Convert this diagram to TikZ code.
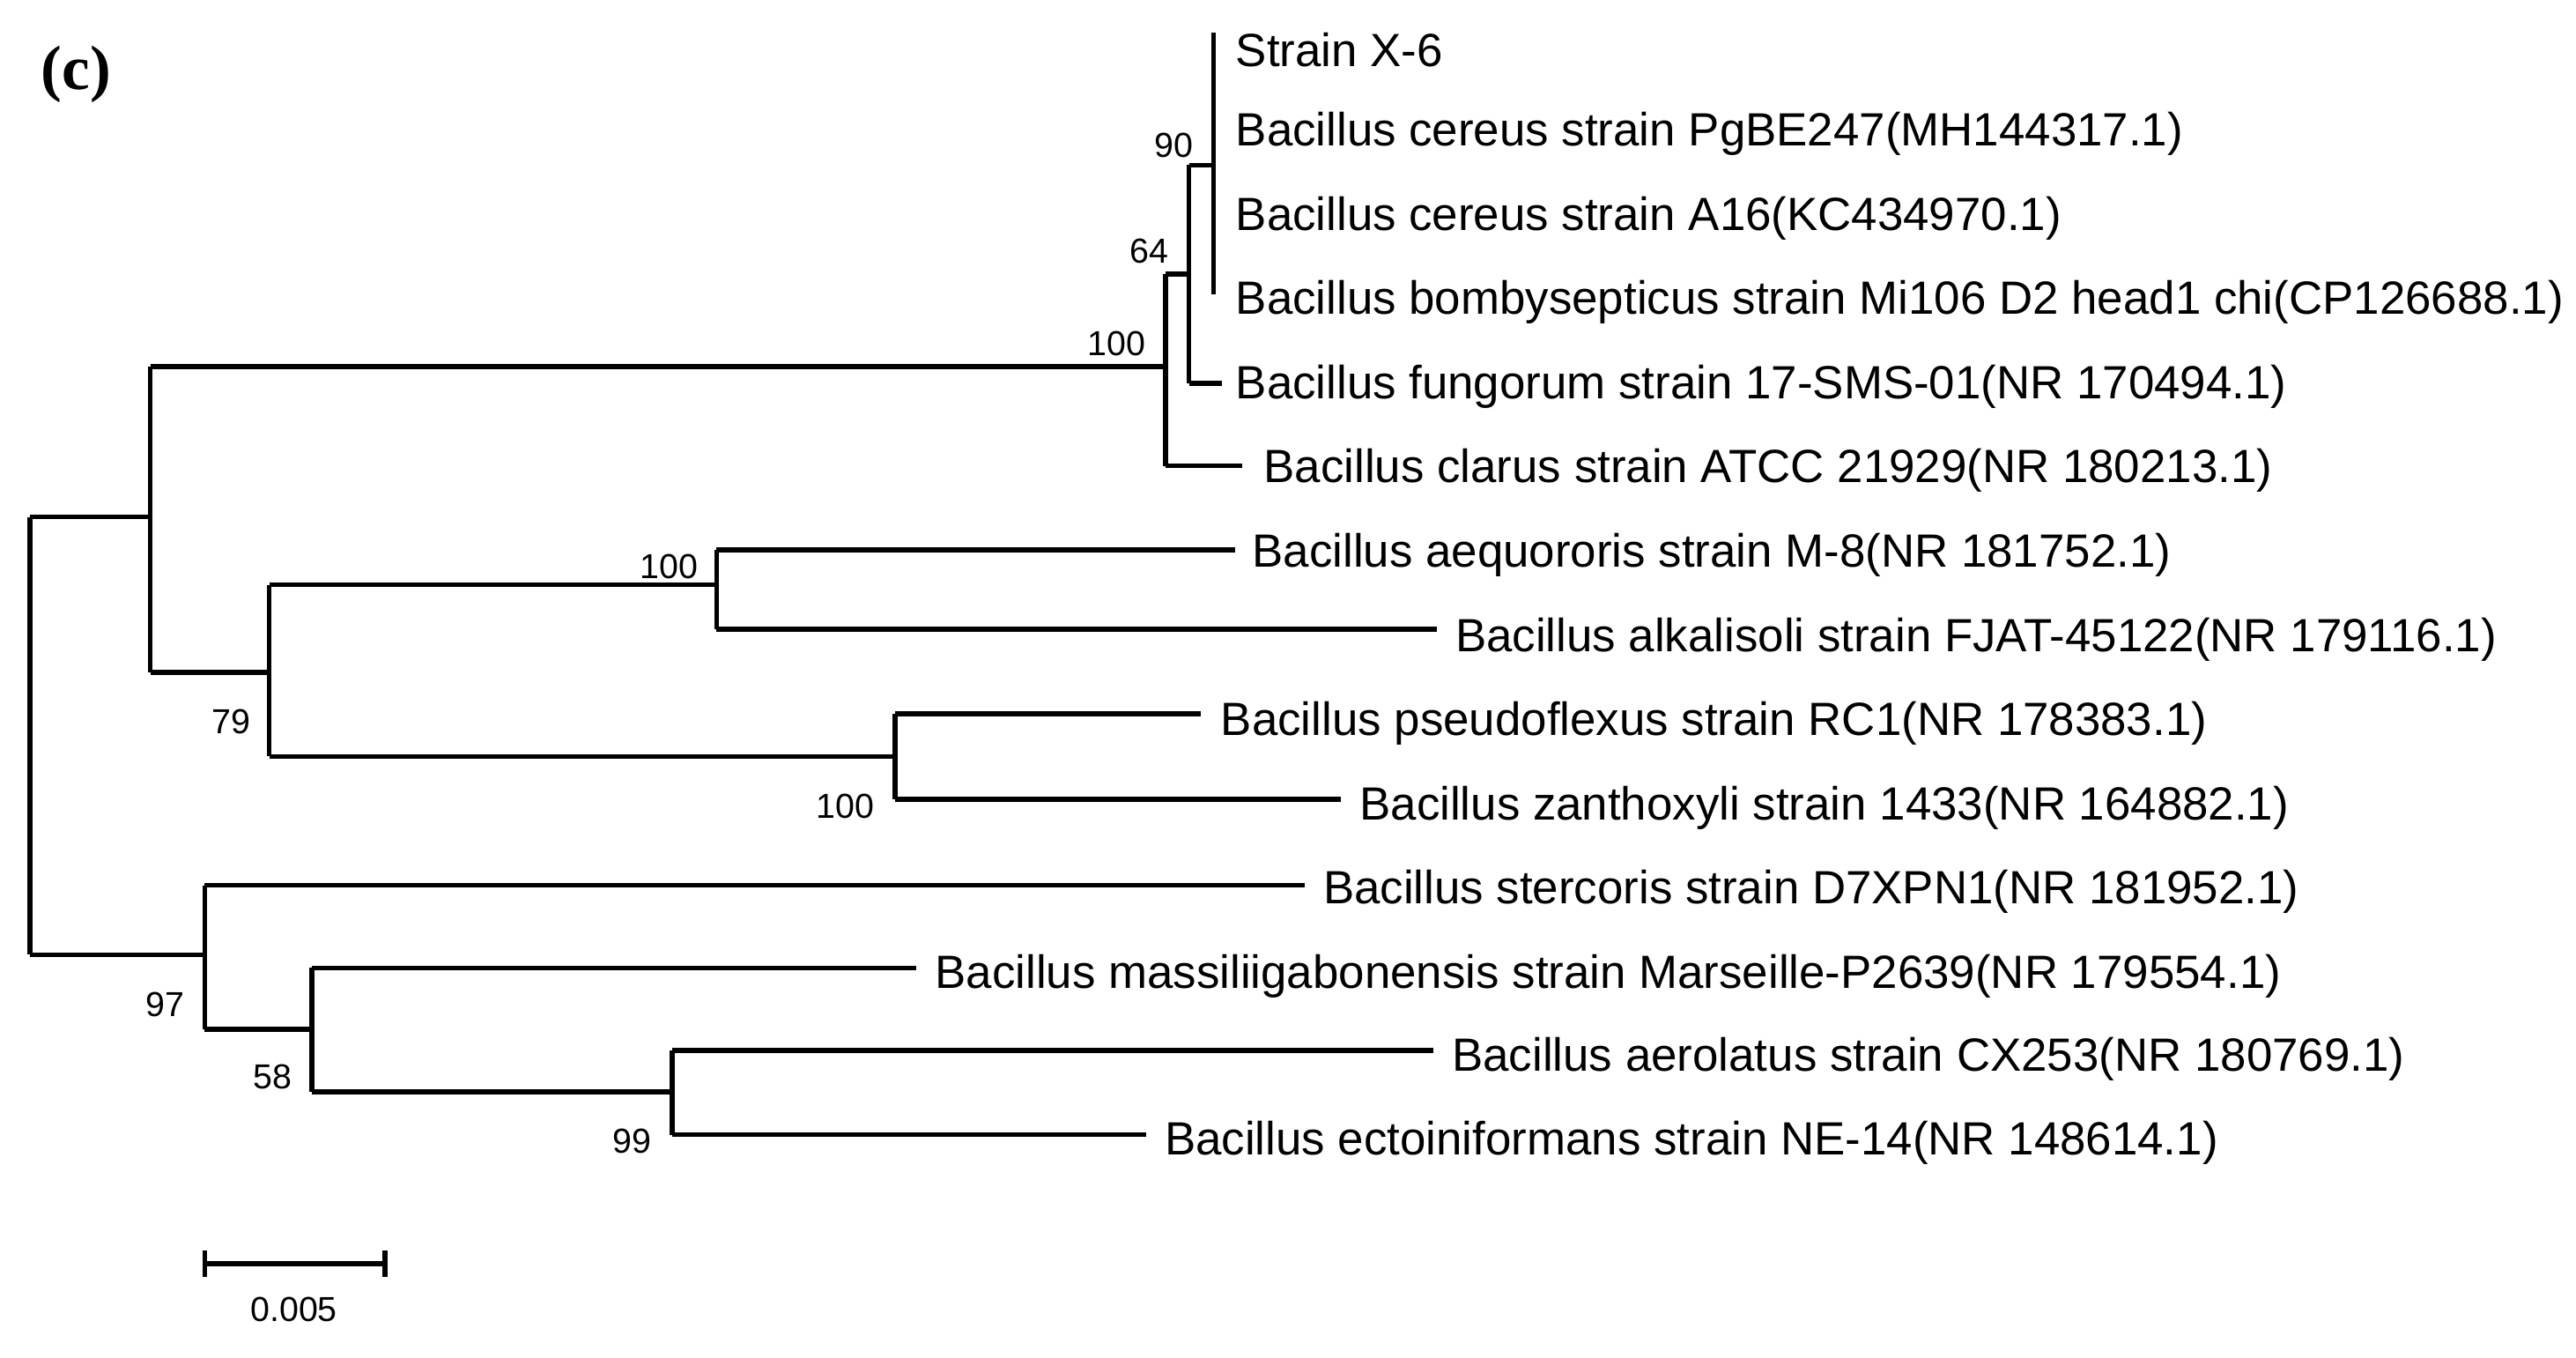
\documentclass[tikz,border=0pt]{standalone}
\usepackage{fontspec}
\setmainfont{Liberation Sans}
\newfontfamily\serifb{Liberation Serif}
\begin{document}
\begin{tikzpicture}[x=0.5pt,y=-0.5pt,
  br/.style={line width=1.5pt},
  leaf/.style={anchor=west,inner sep=0pt,xshift=-1.5pt,font=\fontsize{14.1}{15}\selectfont},
  bs/.style={inner sep=0pt,font=\fontsize{10.5}{12}\selectfont}]
\useasboundingbox (0,0) rectangle (1560,822);
\node[font=\serifb\bfseries\fontsize{19}{20}\selectfont] (lab) at (46,45) {(c)};
% leaves
\node[leaf] (l1) at (751,30) {Strain X-6};
\node[leaf] (l2) at (751,81) {Bacillus cereus strain PgBE247(MH144317.1)};
\node[leaf] (l3) at (751,132) {Bacillus cereus strain A16(KC434970.1)};
\node[leaf] (l4) at (751,183) {Bacillus bombysepticus strain Mi106 D2 head1 chi(CP126688.1)};
\node[leaf] (l5) at (751,234) {Bacillus fungorum strain 17-SMS-01(NR 170494.1)};
\node[leaf] (l6) at (768,285) {Bacillus clarus strain ATCC 21929(NR 180213.1)};
\node[leaf] (l7) at (761,336) {Bacillus aequororis strain M-8(NR 181752.1)};
\node[leaf] (l8) at (884,387) {Bacillus alkalisoli strain FJAT-45122(NR 179116.1)};
\node[leaf] (l9) at (742,438) {Bacillus pseudoflexus strain RC1(NR 178383.1)};
\node[leaf] (l10) at (826,489) {Bacillus zanthoxyli strain 1433(NR 164882.1)};
\node[leaf] (l11) at (804,540) {Bacillus stercoris strain D7XPN1(NR 181952.1)};
\node[leaf] (l12) at (569,591) {Bacillus massiliigabonensis strain Marseille-P2639(NR 179554.1)};
\node[leaf] (l13) at (882,641) {Bacillus aerolatus strain CX253(NR 180769.1)};
\node[leaf] (l14) at (708,692) {Bacillus ectoiniformans strain NE-14(NR 148614.1)};
\begin{scope}[br]
% root
\draw (18,313) -- (18,578);
\draw (18,313) -- (91,313);
\draw (18,578) -- (124,578);
% upper clade
\draw (91,222) -- (91,407);
\draw (91,222) -- (706,222);
\draw (91,407) -- (163,407);
\draw (706,166) -- (706,282);
\draw (706,166) -- (720,166);
\draw (706,282) -- (752,282);
\draw (720,100) -- (720,232);
\draw (720,100) -- (735,100);
\draw (720,232) -- (740,232);
\draw (735,20) -- (735,178);
% 79
\draw (163,354) -- (163,458);
\draw (163,354) -- (434,354);
\draw (163,458) -- (542,458);
\draw (434,333) -- (434,381);
\draw (434,333) -- (748,333);
\draw (434,381) -- (870,381);
\draw (542,432) -- (542,484);
\draw (542,432) -- (727,432);
\draw (542,484) -- (812,484);
% lower clade
\draw (124,536) -- (124,623);
\draw (124,536) -- (790,536);
\draw (124,623) -- (189,623);
\draw (189,586) -- (189,661);
\draw (189,586) -- (555,586);
\draw (189,661) -- (407,661);
\draw (407,636) -- (407,687);
\draw (407,636) -- (868,636);
\draw (407,687) -- (694,687);
% scale bar
\draw (124,765) -- (233,765);
\draw (124,757) -- (124,773);
\draw (233,757) -- (233,773);
\end{scope}
\node[bs] (sb) at (178,793) {0.005};
\node[bs] (b90) at (711,88) {90};
\node[bs] (b64) at (696,152) {64};
\node[bs] (b100a) at (676,208) {100};
\node[bs] (b100b) at (405,343) {100};
\node[bs] (b100c) at (512,488) {100};
\node[bs] (b79) at (140,437) {79};
\node[bs] (b97) at (100,608) {97};
\node[bs] (b58) at (165,652) {58};
\node[bs] (b99) at (383,691) {99};
\end{tikzpicture}
\end{document}
